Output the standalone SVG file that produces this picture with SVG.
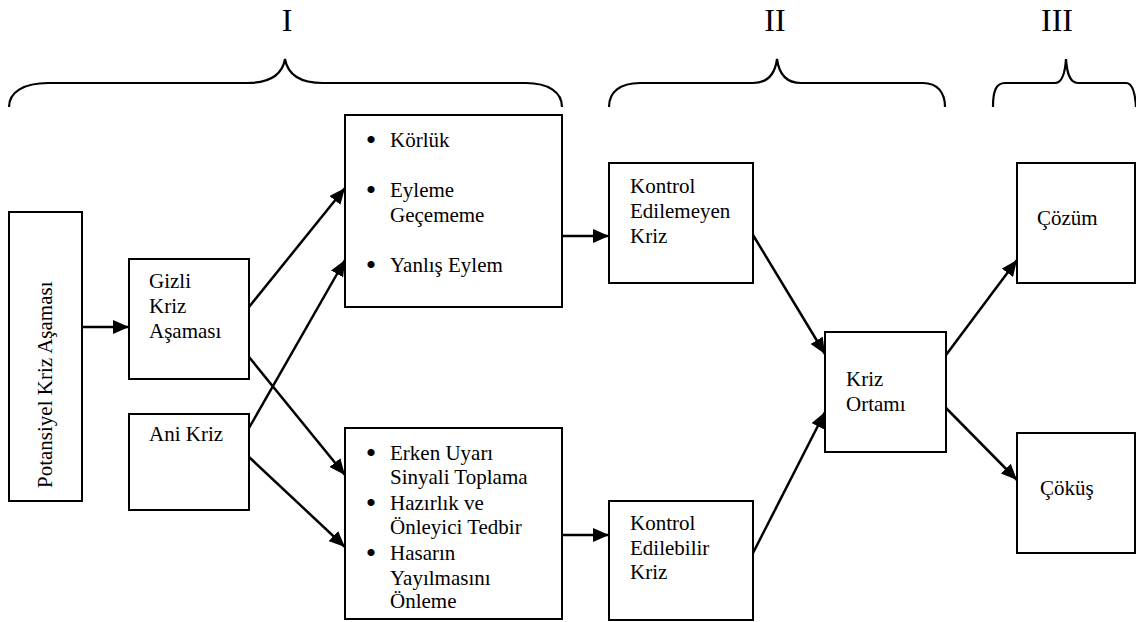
<svg xmlns="http://www.w3.org/2000/svg" width="1136" height="622" viewBox="0 0 1136 622">
  <style>
    .box { fill: #ffffff; stroke: #000000; stroke-width: 2; }
    .brace { fill: none; stroke: #000000; stroke-width: 2.2; }
    .txt { font-family: "Liberation Serif", "Times New Roman", serif; font-size: 21px; fill: #000000; }
    .num { font-family: "Liberation Serif", "Times New Roman", serif; font-size: 32px; fill: #000000; text-anchor: middle; }
    .bul { text-anchor: middle; font-size: 30px; }
    .conn line { stroke: #000000; stroke-width: 2.5; marker-end: url(#arrow); }
  </style>
  <defs>
    <marker id="arrow" markerUnits="userSpaceOnUse" markerWidth="16" markerHeight="14" viewBox="0 0 16 14" refX="16" refY="7" orient="auto">
      <path d="M0,0 L16,7 L0,14 Z" fill="#000000"/>
    </marker>
  </defs>
  <rect width="1136" height="622" fill="#ffffff"/>

  <!-- phase braces and numerals -->
  <g id="phase-1">
    <path class="brace" d="M9,107 C9,92 24,83 48,83 L247,83 C268,83 282,76 285,59 C288,76 302,83 323,83 L526,83 C548,83 562,92 562,107"/>
    <text class="num" x="287" y="31">I</text>
  </g>
  <g id="phase-2">
    <path class="brace" d="M609,107 C609,92 620,83 640,83 L753,83 C768,83 775,74 777,59 C779,74 786,83 801,83 L923,83 C937,83 945,92 945,107"/>
    <text class="num" x="775" y="31">II</text>
  </g>
  <g id="phase-3">
    <path class="brace" d="M993,107 C993,91 996,83 1005,83 L1055,83 C1062,83 1065,74 1066,59 C1067,74 1070,83 1078,83 L1126,83 C1132,83 1135,91 1136,107"/>
    <text class="num" x="1057" y="31">III</text>
  </g>

  <!-- connectors -->
  <g id="connectors" class="conn">
    <line x1="82" y1="327" x2="129" y2="327"/>
    <line x1="249" y1="307" x2="345" y2="188"/>
    <line x1="249" y1="428" x2="345" y2="260"/>
    <line x1="249" y1="357" x2="345" y2="475"/>
    <line x1="249" y1="457" x2="345" y2="547"/>
    <line x1="562" y1="236" x2="609" y2="236"/>
    <line x1="562" y1="535" x2="609" y2="535"/>
    <line x1="753" y1="235" x2="825" y2="354"/>
    <line x1="753" y1="553" x2="825" y2="412"/>
    <line x1="946" y1="355" x2="1017" y2="260"/>
    <line x1="946" y1="408" x2="1017" y2="480"/>
  </g>

  <!-- nodes -->
  <g id="potansiyel">
    <rect class="box" x="9" y="212" width="73" height="289"/>
    <text class="txt" transform="translate(52,488) rotate(-90)">Potansiyel Kriz Aşaması</text>
  </g>
  <g id="gizli">
    <rect class="box" x="129" y="259" width="120" height="120"/>
    <text class="txt" x="149" y="288">Gizli</text>
    <text class="txt" x="149" y="313">Kriz</text>
    <text class="txt" x="149" y="338">Aşaması</text>
  </g>
  <g id="ani">
    <rect class="box" x="129" y="414" width="120" height="96"/>
    <text class="txt" x="149" y="441">Ani Kriz</text>
  </g>
  <g id="hatalar">
    <rect class="box" x="345" y="115" width="217" height="192"/>
    <text class="txt bul" x="371" y="150">•</text>
    <text class="txt" x="390" y="147">Körlük</text>
    <text class="txt bul" x="371" y="200">•</text>
    <text class="txt" x="390" y="197">Eyleme</text>
    <text class="txt" x="390" y="222">Geçememe</text>
    <text class="txt bul" x="371" y="275">•</text>
    <text class="txt" x="390" y="272">Yanlış Eylem</text>
  </g>
  <g id="onlemler">
    <rect class="box" x="345" y="428" width="217" height="191"/>
    <text class="txt bul" x="371" y="463">•</text>
    <text class="txt" x="390" y="460">Erken Uyarı</text>
    <text class="txt" x="390" y="484">Sinyali Toplama</text>
    <text class="txt bul" x="371" y="513">•</text>
    <text class="txt" x="390" y="510">Hazırlık ve</text>
    <text class="txt" x="390" y="534">Önleyici Tedbir</text>
    <text class="txt bul" x="371" y="563">•</text>
    <text class="txt" x="390" y="560">Hasarın</text>
    <text class="txt" x="390" y="585">Yayılmasını</text>
    <text class="txt" x="390" y="608">Önleme</text>
  </g>
  <g id="kontrol-edilemeyen">
    <rect class="box" x="609" y="163" width="144" height="120"/>
    <text class="txt" x="630" y="193">Kontrol</text>
    <text class="txt" x="630" y="218">Edilemeyen</text>
    <text class="txt" x="630" y="243">Kriz</text>
  </g>
  <g id="kontrol-edilebilir">
    <rect class="box" x="609" y="501" width="144" height="119"/>
    <text class="txt" x="630" y="530">Kontrol</text>
    <text class="txt" x="630" y="555">Edilebilir</text>
    <text class="txt" x="630" y="579">Kriz</text>
  </g>
  <g id="kriz-ortami">
    <rect class="box" x="825" y="332" width="121" height="120"/>
    <text class="txt" x="846" y="386">Kriz</text>
    <text class="txt" x="846" y="411">Ortamı</text>
  </g>
  <g id="cozum">
    <rect class="box" x="1017" y="163" width="118" height="120"/>
    <text class="txt" x="1037" y="225">Çözüm</text>
  </g>
  <g id="cokus">
    <rect class="box" x="1017" y="433" width="118" height="120"/>
    <text class="txt" x="1040" y="495">Çöküş</text>
  </g>
</svg>
